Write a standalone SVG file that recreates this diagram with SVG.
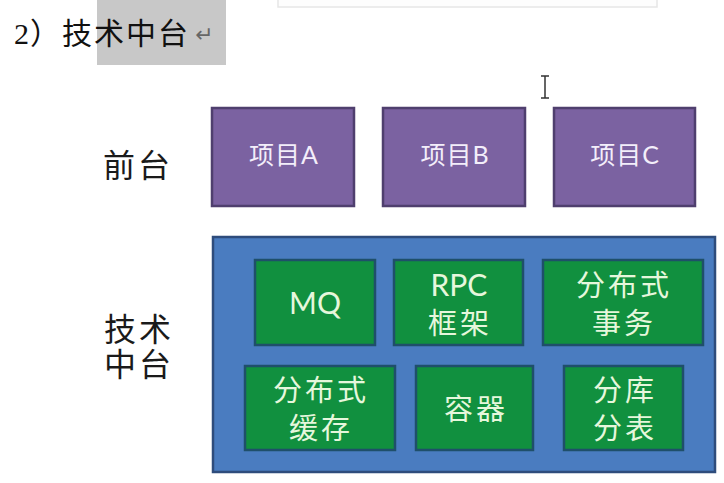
<svg xmlns="http://www.w3.org/2000/svg" width="724" height="483" viewBox="0 0 724 483">
<defs>
<style>
.purple{fill:#7b62a1;stroke:#4f3f6e;stroke-width:2.5}
.green{fill:#11903f;stroke:#1f4f6a;stroke-width:2.5}
.blue{fill:#4a7cc0;stroke:#2e4c7c;stroke-width:2.5}
.pt{font-family:Lato,"Noto Sans CJK SC",sans-serif;font-size:25px;letter-spacing:1px;fill:#f3eefa;text-anchor:middle}
.gt{font-family:Lato,"Noto Sans CJK SC",sans-serif;font-size:29px;letter-spacing:3px;fill:#e6f7dc;text-anchor:middle}
.lat{letter-spacing:0;font-size:30px}
.lt{font-family:"Liberation Sans","Noto Sans CJK SC",sans-serif;font-size:32px;letter-spacing:3px;fill:#1a1a1a;text-anchor:middle}
</style>
</defs>
<rect width="724" height="483" fill="#ffffff"/>
<rect x="278" y="-2" width="379" height="9" fill="#fdfdfd" stroke="#e6e6e6" stroke-width="1.5"/>
<rect x="97" y="0" width="129" height="65" fill="#c8c8c8"/>
<g id="title">
<text x="14" y="44" font-family="Liberation Serif,serif" font-size="30" fill="#111">2</text>
<text x="30" y="44" font-family="Noto Sans CJK SC,sans-serif" font-size="30" letter-spacing="2" fill="#111">）技术中台</text>
<text x="195" y="42" font-family="DejaVu Sans,sans-serif" font-size="22" fill="#666">↵</text>
</g>
<g id="cursor" stroke="#333" stroke-width="1.5" fill="none">
<path d="M541 76h8M545 76v22M541 98h8"/>
</g>
<g id="label-qiantai"><text class="lt" x="138" y="177">前台</text></g>
<g id="label-jishu"><text class="lt" x="139" y="341"><tspan x="139">技术</tspan><tspan x="139" dy="35">中台</tspan></text></g>
<g id="projA"><rect class="purple" x="212" y="108" width="142" height="98"/><text class="pt" x="284" y="164">项目A</text></g>
<g id="projB"><rect class="purple" x="383" y="108" width="142" height="98"/><text class="pt" x="455" y="164">项目B</text></g>
<g id="projC"><rect class="purple" x="554" y="108" width="141" height="98"/><text class="pt" x="625" y="164">项目C</text></g>
<g id="middle"><rect class="blue" x="213" y="237" width="502" height="235"/></g>
<g id="mq"><rect class="green" x="255" y="260" width="120" height="85"/><text class="gt lat" x="315" y="314">MQ</text></g>
<g id="rpc"><rect class="green" x="394" y="260" width="129" height="85"/><text class="gt" x="460" y="296"><tspan class="lat" x="459">RPC</tspan><tspan x="460" dy="38">框架</tspan></text></g>
<g id="tx"><rect class="green" x="543" y="260" width="160" height="85"/><text class="gt" x="624" y="296"><tspan x="624">分布式</tspan><tspan x="624" dy="38">事务</tspan></text></g>
<g id="cache"><rect class="green" x="245" y="366" width="150" height="84"/><text class="gt" x="321" y="401"><tspan x="321">分布式</tspan><tspan x="321" dy="38">缓存</tspan></text></g>
<g id="container"><rect class="green" x="416" y="366" width="117" height="84"/><text class="gt" x="476" y="420">容器</text></g>
<g id="shard"><rect class="green" x="564" y="366" width="119" height="84"/><text class="gt" x="625" y="401"><tspan x="625">分库</tspan><tspan x="625" dy="38">分表</tspan></text></g>
<g id="connectors"/>
</svg>
